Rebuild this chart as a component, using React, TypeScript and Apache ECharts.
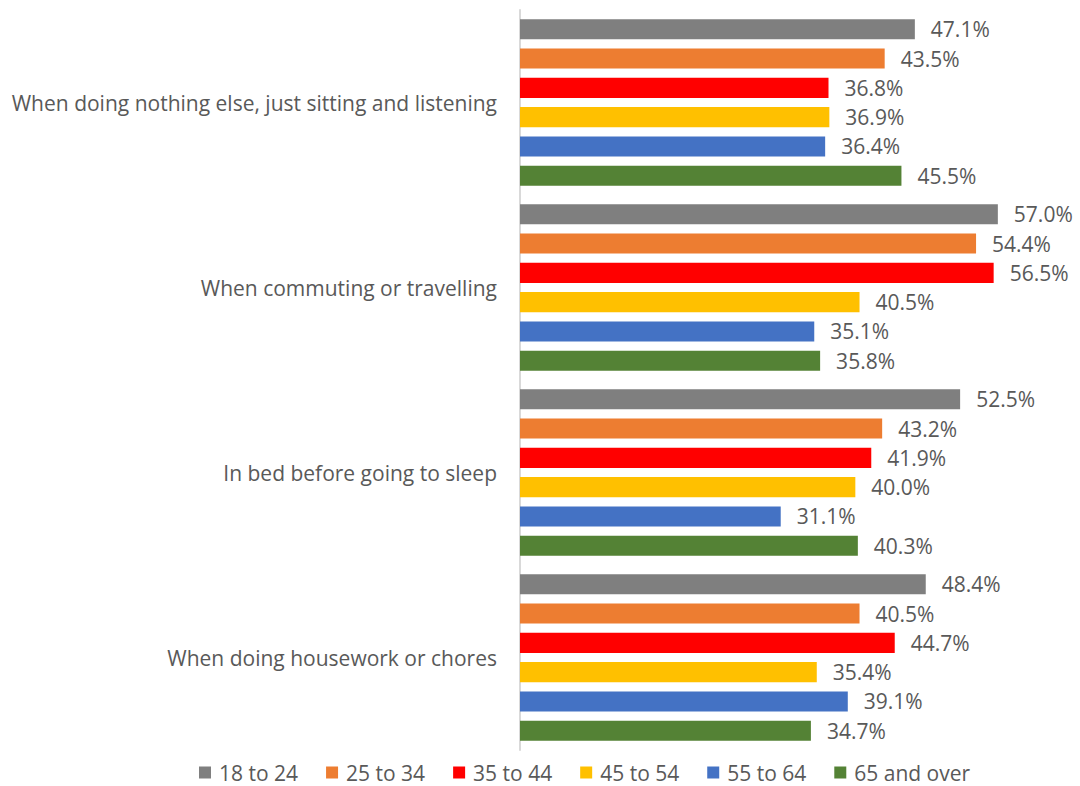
import React, { useEffect, useRef } from "react";
import * as echarts from "echarts";

const categories = [
  "When doing nothing else, just sitting and listening",
  "When commuting or travelling",
  "In bed before going to sleep",
  "When doing housework or chores",
];
const seriesNames = ["18 to 24", "25 to 34", "35 to 44", "45 to 54", "55 to 64", "65 and over"];
const colors = ["#7f7f7f", "#ed7d31", "#ff0000", "#ffc000", "#4472c4", "#548235"];
const age18to24 = [47.1, 57.0, 52.5, 48.4];
const age25to34 = [43.5, 54.4, 43.2, 40.5];
const age35to44 = [36.8, 56.5, 41.9, 44.7];
const age45to54 = [36.9, 40.5, 40.0, 35.4];
const age55to64 = [36.4, 35.1, 31.1, 39.1];
const age65plus = [45.5, 35.8, 40.3, 34.7];
const seriesValues = [age18to24, age25to34, age35to44, age45to54, age55to64, age65plus];

const FONT = "'Open Sans', sans-serif";
const TEXT = "#595959";
const FS = 21;

export default function App() {
  const ref = useRef<HTMLDivElement>(null);
  useEffect(() => {
    if (!ref.current) return;
    const chart = echarts.init(ref.current, undefined, { renderer: "svg" });
    chart.setOption({
      animation: false,
      textStyle: { fontFamily: FONT },
      grid: { left: 520, top: 10, right: 57, bottom: 36, containLabel: false },
      legend: {
        left: 199,
        top: 762,
        icon: "rect",
        itemWidth: 12,
        itemHeight: 12,
        itemGap: 28,
        padding: 0,
        textStyle: { color: TEXT, fontSize: FS, fontFamily: FONT, padding: [0, 0, 0, 3] },
        data: seriesNames,
      },
      xAxis: {
        type: "value",
        min: 0,
        max: 60,
        show: false,
        splitLine: { show: false },
      },
      yAxis: {
        type: "category",
        data: categories,
        inverse: true,
        axisLine: { show: true, lineStyle: { color: "#d9d9d9", width: 2 } },
        axisTick: { show: false },
        axisLabel: { color: TEXT, fontSize: FS, fontFamily: FONT, margin: 23 },
      },
      series: seriesNames.map((name, i) => ({
        name,
        type: "bar",
        data: seriesValues[i],
        itemStyle: { color: colors[i] },
        barGap: "46%",
        barCategoryGap: "10%",
        label: {
          show: true,
          position: "right",
          distance: 16,
          color: TEXT,
          fontSize: FS,
          fontFamily: FONT,
          formatter: (p: any) => p.value.toFixed(1) + "%",
        },
      })),
    });
    return () => chart.dispose();
  }, []);
  return (
    <div
      ref={ref}
      style={{ position: "fixed", left: 0, top: 0, width: 1080, height: 786, background: "#fff" }}
    />
  );
}
